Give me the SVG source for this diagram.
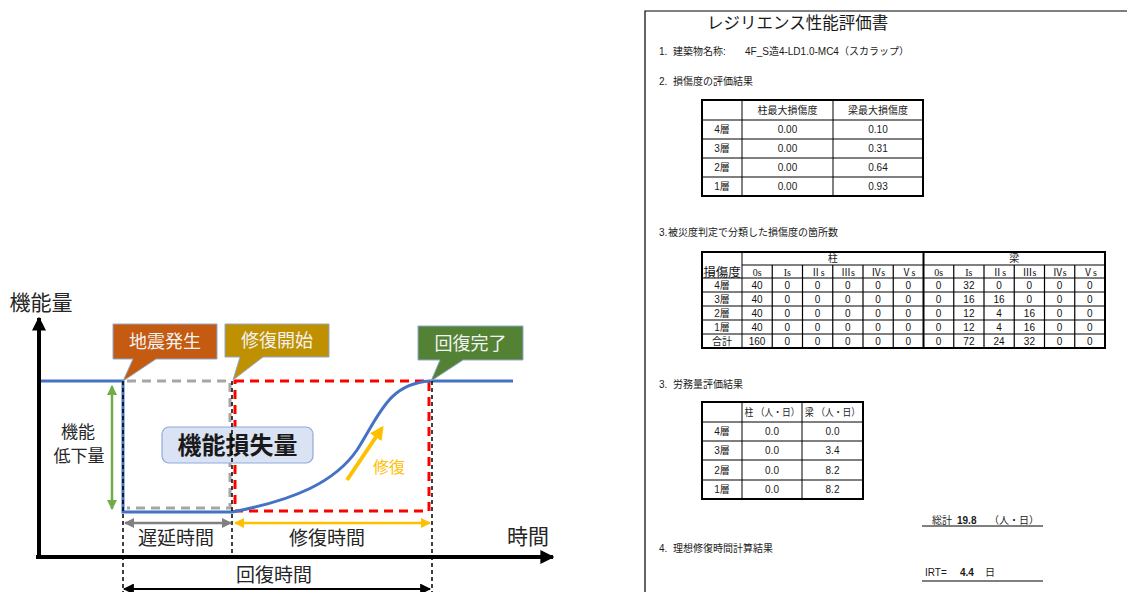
<svg xmlns="http://www.w3.org/2000/svg" width="1127" height="592" viewBox="0 0 1127 592">
<style>
.jp{font-family:"Noto Sans CJK JP","Noto Sans",sans-serif}
.lbl{font-family:"Noto Sans CJK JP",sans-serif;fill:#262626;font-size:19px;text-anchor:middle}
.cw{font-family:"Noto Sans CJK JP",sans-serif;fill:#f2f2f2;font-size:18px;text-anchor:middle}
.doc{font-family:"Liberation Sans","Noto Sans CJK JP",sans-serif;fill:#1a1a1a;font-size:10px}
.c{text-anchor:middle}
.num{font-family:"Liberation Sans","Noto Sans CJK JP",sans-serif;fill:#111;font-size:10px;text-anchor:middle}
.hd{font-family:"Liberation Serif","Noto Sans CJK JP",serif;fill:#111;font-size:10px;text-anchor:middle}
.outer{fill:none;stroke:#000;stroke-width:2}
.inner{stroke:#000;stroke-width:1}
.blue{fill:none;stroke:#4472C4;stroke-width:3}
.gdash{fill:none;stroke:#A6A6A6;stroke-width:3;stroke-dasharray:9 6}
.rdash{fill:none;stroke:#FF0000;stroke-width:3;stroke-dasharray:9 6}
.kdash{fill:none;stroke:#000;stroke-width:1.5;stroke-dasharray:4 3}
</style>
<defs>
<marker id="ak" viewBox="0 0 10 10" refX="9" refY="5" markerWidth="14" markerHeight="14" markerUnits="userSpaceOnUse" orient="auto-start-reverse"><path d="M0,0 L10,5 L0,10 z" fill="#000"/></marker>
<marker id="ag" viewBox="0 0 10 10" refX="9" refY="5" markerWidth="10" markerHeight="10" markerUnits="userSpaceOnUse" orient="auto-start-reverse"><path d="M0,0 L10,5 L0,10 z" fill="#808080"/></marker>
<marker id="ay" viewBox="0 0 10 10" refX="9" refY="5" markerWidth="10" markerHeight="10" markerUnits="userSpaceOnUse" orient="auto-start-reverse"><path d="M0,0 L10,5 L0,10 z" fill="#FFC000"/></marker>
<marker id="agr" viewBox="0 0 10 10" refX="9" refY="5" markerWidth="10" markerHeight="10" markerUnits="userSpaceOnUse" orient="auto-start-reverse"><path d="M0,0 L10,5 L0,10 z" fill="#70AD47"/></marker>
<marker id="ab" viewBox="0 0 10 10" refX="9" refY="5" markerWidth="11" markerHeight="11" markerUnits="userSpaceOnUse" orient="auto-start-reverse"><path d="M0,0 L10,5 L0,10 z" fill="#000"/></marker>
<marker id="ao" viewBox="0 0 10 10" refX="8" refY="5" markerWidth="14" markerHeight="14" markerUnits="userSpaceOnUse" orient="auto"><path d="M0,0 L10,5 L0,10 z" fill="#FFC000"/></marker>
</defs>
<rect width="1127" height="592" fill="#fff"/>

<g id="chart">
<text class="lbl" x="41" y="310" style="font-size:21px">機能量</text>
<text class="lbl" x="528" y="544" style="font-size:21px">時間</text>
<text class="lbl" x="78" y="438" style="font-size:17px">機能</text>
<text class="lbl" x="79" y="462" style="font-size:17px">低下量</text>
<text class="lbl" x="176" y="545">遅延時間</text>
<text class="lbl" x="327" y="545">修復時間</text>
<text class="lbl" x="274" y="582">回復時間</text>
</g>

<g id="curves">
<path class="gdash" d="M127,381 H230 V508 H127"/>
<path class="rdash" d="M235,381 H429 V511 H235 Z"/>
<path class="blue" d="M40,381 H123 V512 H232 C295,500 335,482 357,450 C380,414 388,384 430,381 H513"/>
</g>

<g id="loss-box">
<rect x="162" y="427" width="151" height="36" rx="7" fill="#DAE3F3" stroke="#8FAADC" stroke-width="1.2"/>
<text class="jp" x="237.5" y="453.5" text-anchor="middle" font-size="24" font-weight="bold" fill="#1a1a1a">機能損失量</text>
</g>

<g id="repair-label">
<text class="jp" x="389" y="473" text-anchor="middle" font-size="16" fill="#FFC000">修復</text>
</g>

<g id="callout-quake">
<path d="M113,324 H217 V359 H156 L123,381 L133,359 H113 Z" fill="#C55A11" stroke="#8FA8CF" stroke-width="1"/>
<text class="cw" x="165" y="348">地震発生</text>
</g>
<g id="callout-repair-start">
<path d="M225,324 H329 V357 H263 L233,380 L240,357 H225 Z" fill="#BF9000" stroke="#8FA8CF" stroke-width="1"/>
<text class="cw" x="277" y="347">修復開始</text>
</g>
<g id="callout-recovered">
<path d="M418,326 H523 V360 H463 L431,381 L440,360 H418 Z" fill="#548235" stroke="#8FA8CF" stroke-width="1"/>
<text class="cw" x="470.5" y="350">回復完了</text>
</g>

<g id="connectors">
<line x1="39" y1="558" x2="39" y2="318" stroke="#000" stroke-width="4" marker-end="url(#ak)"/>
<line x1="36" y1="557" x2="553" y2="557" stroke="#000" stroke-width="4" marker-end="url(#ak)"/>
<line class="kdash" x1="123" y1="381" x2="123" y2="592"/>
<line class="kdash" x1="232" y1="381" x2="232" y2="557"/>
<line class="kdash" x1="432" y1="381" x2="432" y2="592"/>
<line x1="112" y1="386" x2="112" y2="509" stroke="#70AD47" stroke-width="2.5" marker-start="url(#agr)" marker-end="url(#agr)"/>
<line x1="125" y1="523" x2="231" y2="523" stroke="#808080" stroke-width="2.5" marker-start="url(#ag)" marker-end="url(#ag)"/>
<line x1="235" y1="523" x2="430" y2="523" stroke="#FFC000" stroke-width="2.5" marker-start="url(#ay)" marker-end="url(#ay)"/>
<line x1="124" y1="589" x2="430" y2="589" stroke="#000" stroke-width="2" marker-start="url(#ab)" marker-end="url(#ab)"/>
<line x1="347" y1="480" x2="382" y2="428" stroke="#FFC000" stroke-width="4" marker-end="url(#ao)"/>
</g>

<g id="document">
<path d="M645,592 V11 H1127" fill="none" stroke="#000" stroke-width="1.2"/>
<text class="jp" x="707" y="29" font-size="16.5" fill="#1a1a1a">レジリエンス性能評価書</text>
<text class="doc" x="659" y="55">1.</text><text class="doc" x="673" y="55">建築物名称:</text>
<text class="doc" x="745" y="55">4F_S造4-LD1.0-MC4（スカラップ）</text>
<text class="doc" x="659" y="85">2.</text><text class="doc" x="673" y="85">損傷度の評価結果</text>
<text class="doc" x="659" y="236">3.</text><text class="doc" x="668" y="236">被災度判定で分類した損傷度の箇所数</text>
<text class="doc" x="659" y="388">3.</text><text class="doc" x="673" y="388">労務量評価結果</text>
<text class="doc" x="659" y="552">4.</text><text class="doc" x="673" y="552">理想修復時間計算結果</text>
</g>

<g id="table-damage">
<line class="inner" x1="702" y1="120" x2="923" y2="120"/>
<line class="inner" x1="702" y1="139" x2="923" y2="139"/>
<line class="inner" x1="702" y1="158" x2="923" y2="158"/>
<line class="inner" x1="702" y1="177" x2="923" y2="177"/>
<line class="inner" x1="742" y1="100" x2="742" y2="196"/>
<line class="inner" x1="833" y1="100" x2="833" y2="196"/>
<rect class="outer" x="702" y="100" width="221" height="96"/>
<text class="doc c" x="787.5" y="114">柱最大損傷度</text>
<text class="doc c" x="878" y="114">梁最大損傷度</text>
<text class="doc c" x="722" y="133">4層</text><text class="doc c" x="787.5" y="133">0.00</text><text class="doc c" x="878" y="133">0.10</text>
<text class="doc c" x="722" y="152">3層</text><text class="doc c" x="787.5" y="152">0.00</text><text class="doc c" x="878" y="152">0.31</text>
<text class="doc c" x="722" y="171">2層</text><text class="doc c" x="787.5" y="171">0.00</text><text class="doc c" x="878" y="171">0.64</text>
<text class="doc c" x="722" y="190">1層</text><text class="doc c" x="787.5" y="190">0.00</text><text class="doc c" x="878" y="190">0.93</text>
</g>

<g id="table-count">
<line class="inner" x1="742" y1="265" x2="1105" y2="265"/>
<line class="inner" x1="702" y1="278" x2="1105" y2="278" stroke-width="1.5"/>
<line class="inner" x1="702" y1="292" x2="1105" y2="292"/>
<line class="inner" x1="702" y1="306" x2="1105" y2="306"/>
<line class="inner" x1="702" y1="320" x2="1105" y2="320"/>
<line class="inner" x1="702" y1="334" x2="1105" y2="334"/>
<line class="inner" x1="742" y1="252" x2="742" y2="348" stroke-width="1.5"/>
<g stroke="#000" stroke-width="1.2">
<line x1="772.25" y1="265" x2="772.25" y2="348"/><line x1="802.5" y1="265" x2="802.5" y2="348"/><line x1="832.75" y1="265" x2="832.75" y2="348"/><line x1="863" y1="265" x2="863" y2="348"/><line x1="893.25" y1="265" x2="893.25" y2="348"/>
<line x1="953.75" y1="265" x2="953.75" y2="348"/><line x1="984" y1="265" x2="984" y2="348"/><line x1="1014.25" y1="265" x2="1014.25" y2="348"/><line x1="1044.5" y1="265" x2="1044.5" y2="348"/><line x1="1074.75" y1="265" x2="1074.75" y2="348"/>
</g>
<line x1="923.5" y1="252" x2="923.5" y2="348" stroke="#000" stroke-width="2"/>
<rect class="outer" x="702" y="252" width="403" height="96"/>
<text class="doc c" x="832.75" y="262">柱</text>
<text class="doc c" x="1014.25" y="262">梁</text>
<text class="jp" x="722" y="276.5" text-anchor="middle" font-size="12.5" fill="#111">損傷度</text>
<g class="hd">
<text x="757.1" y="276">0s</text><text x="787.4" y="276">Is</text><text x="817.6" y="276">Ⅱs</text><text x="847.9" y="276">Ⅲs</text><text x="878.1" y="276">Ⅳs</text><text x="908.4" y="276">Ⅴs</text>
<text x="938.6" y="276">0s</text><text x="968.9" y="276">Is</text><text x="999.1" y="276">Ⅱs</text><text x="1029.4" y="276">Ⅲs</text><text x="1059.6" y="276">Ⅳs</text><text x="1089.9" y="276">Ⅴs</text>
</g>
<g class="num">
<text class="doc c" x="722" y="289">4層</text>
<text x="757.1" y="289">40</text><text x="787.4" y="289">0</text><text x="817.6" y="289">0</text><text x="847.9" y="289">0</text><text x="878.1" y="289">0</text><text x="908.4" y="289">0</text>
<text x="938.6" y="289">0</text><text x="968.9" y="289">32</text><text x="999.1" y="289">0</text><text x="1029.4" y="289">0</text><text x="1059.6" y="289">0</text><text x="1089.9" y="289">0</text>
<text class="doc c" x="722" y="303">3層</text>
<text x="757.1" y="303">40</text><text x="787.4" y="303">0</text><text x="817.6" y="303">0</text><text x="847.9" y="303">0</text><text x="878.1" y="303">0</text><text x="908.4" y="303">0</text>
<text x="938.6" y="303">0</text><text x="968.9" y="303">16</text><text x="999.1" y="303">16</text><text x="1029.4" y="303">0</text><text x="1059.6" y="303">0</text><text x="1089.9" y="303">0</text>
<text class="doc c" x="722" y="317">2層</text>
<text x="757.1" y="317">40</text><text x="787.4" y="317">0</text><text x="817.6" y="317">0</text><text x="847.9" y="317">0</text><text x="878.1" y="317">0</text><text x="908.4" y="317">0</text>
<text x="938.6" y="317">0</text><text x="968.9" y="317">12</text><text x="999.1" y="317">4</text><text x="1029.4" y="317">16</text><text x="1059.6" y="317">0</text><text x="1089.9" y="317">0</text>
<text class="doc c" x="722" y="331">1層</text>
<text x="757.1" y="331">40</text><text x="787.4" y="331">0</text><text x="817.6" y="331">0</text><text x="847.9" y="331">0</text><text x="878.1" y="331">0</text><text x="908.4" y="331">0</text>
<text x="938.6" y="331">0</text><text x="968.9" y="331">12</text><text x="999.1" y="331">4</text><text x="1029.4" y="331">16</text><text x="1059.6" y="331">0</text><text x="1089.9" y="331">0</text>
<text class="doc c" x="722" y="345">合計</text>
<text x="757.1" y="345">160</text><text x="787.4" y="345">0</text><text x="817.6" y="345">0</text><text x="847.9" y="345">0</text><text x="878.1" y="345">0</text><text x="908.4" y="345">0</text>
<text x="938.6" y="345">0</text><text x="968.9" y="345">72</text><text x="999.1" y="345">24</text><text x="1029.4" y="345">32</text><text x="1059.6" y="345">0</text><text x="1089.9" y="345">0</text>
</g>
</g>

<g id="table-labor">
<line class="inner" x1="702" y1="422" x2="863" y2="422"/>
<line class="inner" x1="702" y1="441" x2="863" y2="441"/>
<line class="inner" x1="702" y1="460" x2="863" y2="460"/>
<line class="inner" x1="702" y1="480" x2="863" y2="480"/>
<line class="inner" x1="742" y1="402" x2="742" y2="499"/>
<line class="inner" x1="802" y1="402" x2="802" y2="499"/>
<rect class="outer" x="702" y="402" width="161" height="97"/>
<text class="doc c" x="772" y="416" font-size="9.5" textLength="55" lengthAdjust="spacingAndGlyphs">柱 （人・日）</text>
<text class="doc c" x="832.5" y="416" font-size="9.5" textLength="55" lengthAdjust="spacingAndGlyphs">梁 （人・日）</text>
<text class="doc c" x="722" y="435">4層</text><text class="doc c" x="772" y="435">0.0</text><text class="doc c" x="832.5" y="435">0.0</text>
<text class="doc c" x="722" y="454">3層</text><text class="doc c" x="772" y="454">0.0</text><text class="doc c" x="832.5" y="454">3.4</text>
<text class="doc c" x="722" y="474">2層</text><text class="doc c" x="772" y="474">0.0</text><text class="doc c" x="832.5" y="474">8.2</text>
<text class="doc c" x="722" y="493">1層</text><text class="doc c" x="772" y="493">0.0</text><text class="doc c" x="832.5" y="493">8.2</text>
</g>

<g id="totals">
<text class="doc" x="932" y="524">総計</text>
<text class="doc" x="957" y="524" font-weight="bold" font-size="11">19.8</text>
<text class="doc" x="989" y="524">（人・日）</text>
<line x1="922" y1="526" x2="1043" y2="526" stroke="#000" stroke-width="1"/>
<text class="doc" x="925" y="576">IRT=</text>
<text class="doc" x="960" y="576" font-weight="bold" font-size="11">4.4</text>
<text class="doc" x="985" y="576">日</text>
<line x1="922" y1="581" x2="1043" y2="581" stroke="#000" stroke-width="1"/>
</g>
</svg>
